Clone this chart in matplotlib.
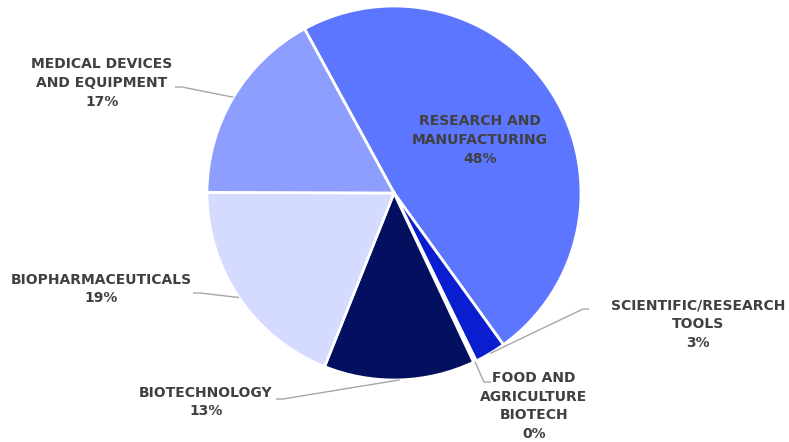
import matplotlib.pyplot as plt
import numpy as np

# data, clockwise from the Research slice
labels = ["RESEARCH AND\nMANUFACTURING", "SCIENTIFIC/RESEARCH\nTOOLS", "FOOD AND\nAGRICULTURE\nBIOTECH",
          "BIOTECHNOLOGY", "BIOPHARMACEUTICALS", "MEDICAL DEVICES\nAND EQUIPMENT"]
values = [48.0, 2.7, 0.25, 13.05, 19.0, 17.0]
pct_text = ["48%", "3%", "0%", "13%", "19%", "17%"]
colors = ["#5C76FF", "#0A1ECF", "#FFFFFF", "#02105F", "#D5DAFF", "#8E9EFF"]

# label placement in pixels (x, y of text center, y from top)
label_pos = [(480, 140), (698, 324), (534, 406), (206, 402), (101, 289), (102, 83)]
# elbow of leader: (knee x, knee y, end x)
elbows = [None, (583, 309, 589), (484, 382, 491), (283, 399, 276), (200, 293, 193), (182, 87, 175)]

W, H = 789, 442
cx, cy, R = 394, 193, 187

fig = plt.figure(figsize=(W / 100, H / 100), dpi=100)
ax = fig.add_axes([0, 0, 1, 1])

wedges, _ = ax.pie(values, colors=colors, startangle=118.6, counterclock=False,
                   center=(cx, H - cy), radius=R, frame=True,
                   wedgeprops=dict(edgecolor="white", linewidth=2))
ax.set_xlim(0, W)
ax.set_ylim(0, H)
ax.set_aspect("equal")
ax.axis("off")

txt_color = "#404040"
for i, w in enumerate(wedges):
    x, y = label_pos[i]
    ax.text(x, H - y, labels[i] + "\n" + pct_text[i], ha="center", va="center",
            fontsize=10, fontweight="bold", color=txt_color, linespacing=1.45,
            family="DejaVu Sans")
    if elbows[i] is None:
        continue
    ang = np.deg2rad((w.theta1 + w.theta2) / 2)
    ex = cx + R * np.cos(ang)
    ey = (H - cy) + R * np.sin(ang)
    kx, ky, endx = elbows[i]
    ax.plot([ex, kx, endx], [ey, H - ky, H - ky], color="#A6A6A6", lw=1, solid_capstyle="butt")

fig.savefig("out.png", dpi=100)
